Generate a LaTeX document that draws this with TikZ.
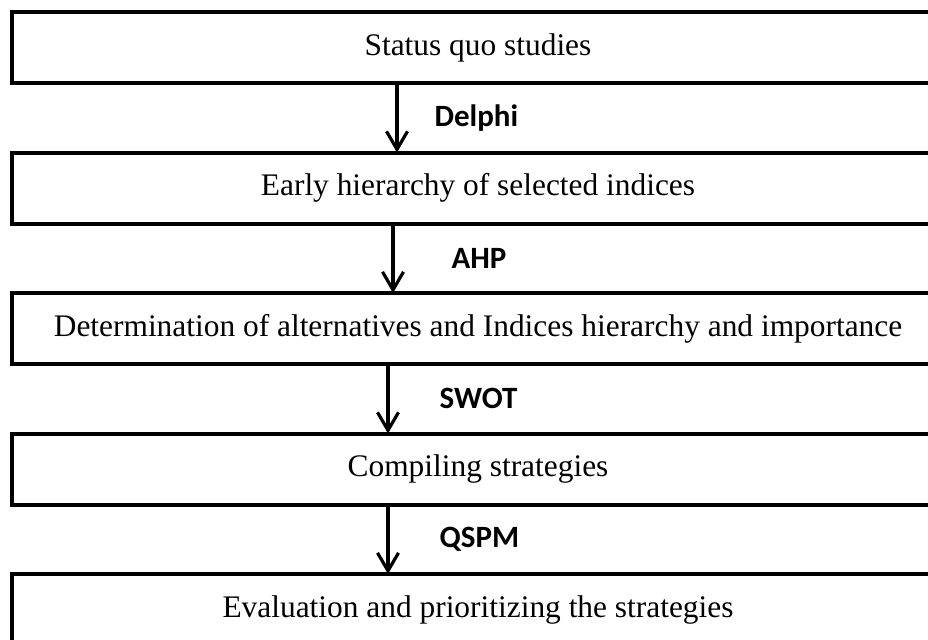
\documentclass[tikz,border=0pt]{standalone}
\usepackage{fontspec}
\setmainfont{Liberation Serif}
\newfontfamily\labelfont{Carlito}
\usetikzlibrary{positioning,arrows.meta}

\begin{document}
\begin{tikzpicture}[
    stage/.style={draw, line width=2pt, outer sep=0pt, inner sep=0pt,
      minimum width=466pt, minimum height=35.5pt,
      font=\fontsize{15.7}{18}\selectfont},
    method/.style={inner sep=0pt, font=\labelfont\bfseries\fontsize{15.5}{18}\selectfont},
    flow/.style={line width=1.6pt, -{Straight Barb[length=9pt, width=10.5pt, line width=1.6pt]}},
    node distance=34.75pt
  ]
  \useasboundingbox (0,0) rectangle (464pt,-319.5pt);
  \node[stage] (status) at (239pt,-23.75pt) {Status quo studies};
  \node[stage, below=of status] (early) {Early hierarchy of selected indices};
  \node[stage, below=of early] (alternatives) {Determination of alternatives and Indices hierarchy and importance};
  \node[stage, below=of alternatives] (compiling) {Compiling strategies};
  \node[stage, below=of compiling] (evaluation) {Evaluation and prioritizing the strategies};

  \draw[flow] ([xshift=192.5pt]status.south west) -- ([xshift=192.5pt]early.north west)
    node[method, midway, right=18pt] (delphi) {Delphi};
  \draw[flow] ([xshift=190.5pt]early.south west) -- ([xshift=190.5pt]alternatives.north west)
    node[method, midway, right=28.5pt] (ahp) {AHP};
  \draw[flow] ([xshift=188pt]alternatives.south west) -- ([xshift=188pt]compiling.north west)
    node[method, midway, right=25pt] (swot) {SWOT};
  \draw[flow] ([xshift=188pt]compiling.south west) -- ([xshift=188pt]evaluation.north west)
    node[method, midway, right=25pt] (qspm) {QSPM};
\end{tikzpicture}
\end{document}
